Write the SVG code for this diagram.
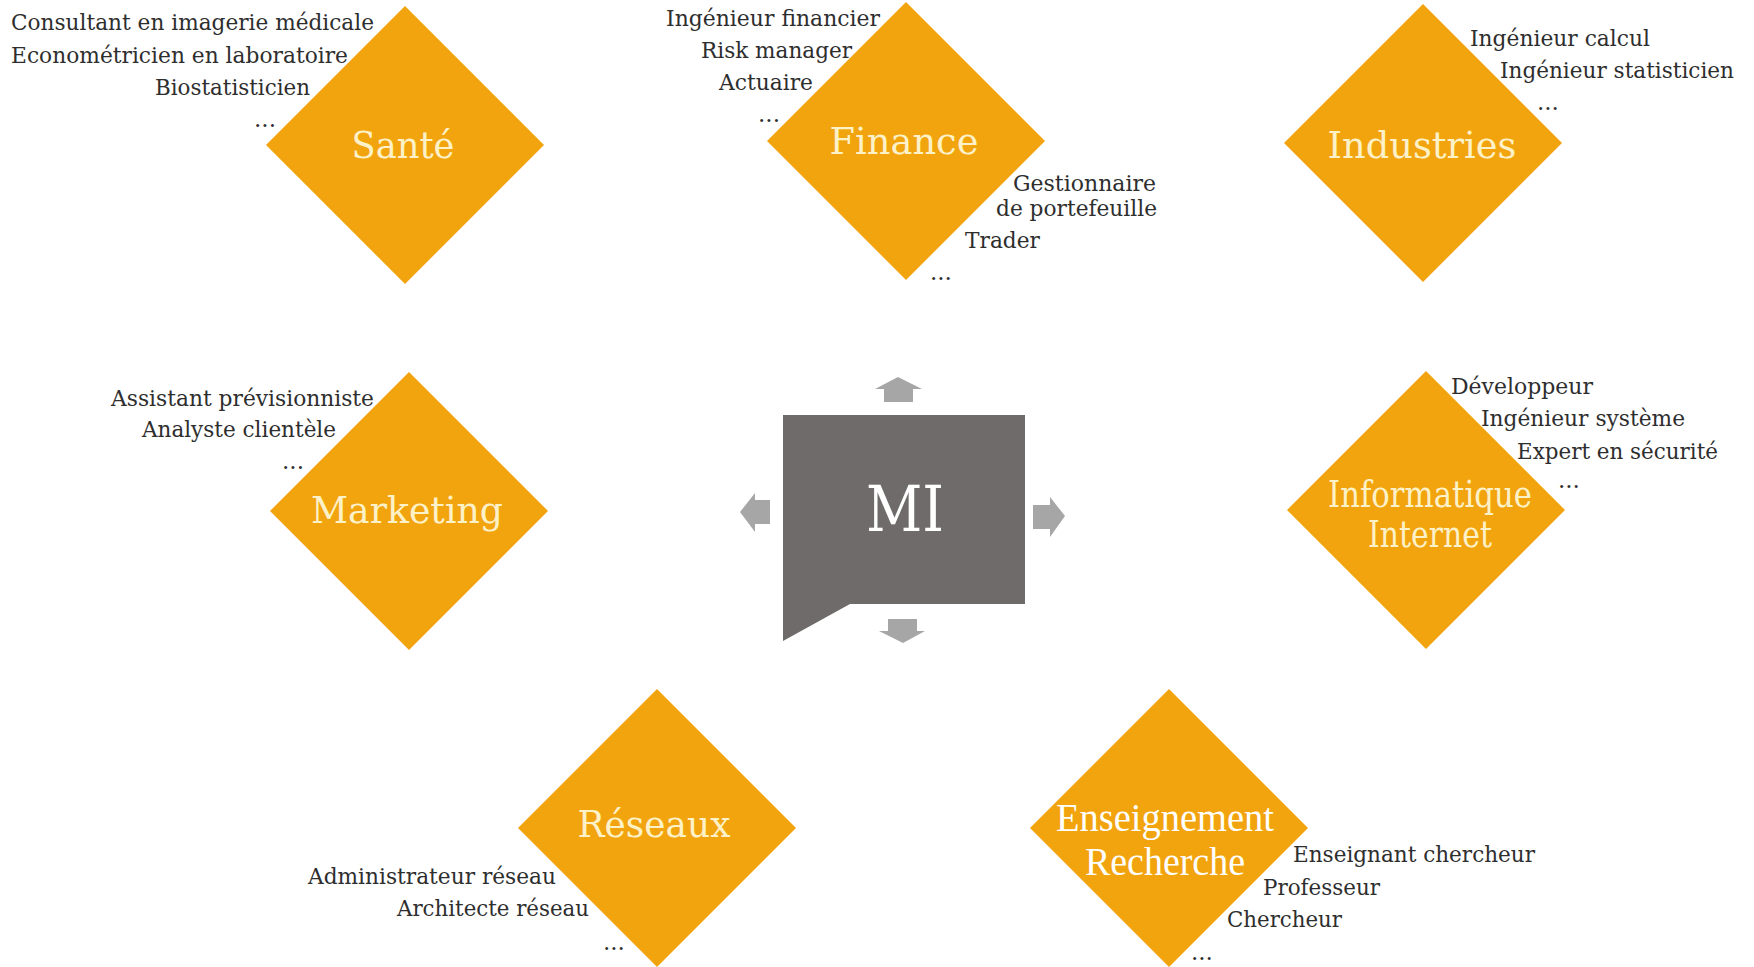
<svg xmlns="http://www.w3.org/2000/svg" width="1754" height="967" viewBox="0 0 1754 967">
<style>
.dia{fill:#F2A40E;}
.dl{font-family:"DejaVu Serif","Liberation Serif",serif;font-size:38px;fill:#FDF1C8;text-anchor:middle;}
.dl2{font-family:"Liberation Serif","DejaVu Serif",serif;font-size:40px;fill:#FFFFFF;text-anchor:middle;}
.lb{font-family:"DejaVu Serif","Liberation Serif",serif;font-size:23px;fill:#2E2E2E;}
.r{text-anchor:end;}
.arr{fill:#A6A6A6;}
</style>
<rect width="1754" height="967" fill="#FFFFFF"/>
<g id="connectors">
<polygon class="arr" points="898,377 922,389 913,389 913,402 884,402 884,389 875,389"/>
<polygon class="arr" points="740,512 755,493 755,500 770,500 770,524 755,524 755,532"/>
<polygon class="arr" points="1065,516 1050,497 1050,505 1033,505 1033,529 1050,529 1050,537"/>
<polygon class="arr" points="903,643 925,631 917,631 917,619 888,619 888,631 879,631"/>
</g>
<g id="mi">
<polygon fill="#6E6B6A" points="783,415 1025,415 1025,604 850,604 783,641"/>
<text x="905" y="531" font-family="DejaVu Serif,Liberation Serif,serif" font-size="64" fill="#FFFFFF" text-anchor="middle" textLength="78" lengthAdjust="spacingAndGlyphs">MI</text>
</g>
<g id="sante">
<polygon class="dia" points="405,6 544,145 405,284 266,145"/>
<text class="dl" x="403" y="158" textLength="103" lengthAdjust="spacingAndGlyphs">Santé</text>
<text class="lb r" x="374" y="30" textLength="363" lengthAdjust="spacingAndGlyphs">Consultant en imagerie médicale</text>
<text class="lb r" x="348" y="63" textLength="337" lengthAdjust="spacingAndGlyphs">Econométricien en laboratoire</text>
<text class="lb r" x="310" y="95" textLength="155" lengthAdjust="spacingAndGlyphs">Biostatisticien</text>
<text class="lb r" x="276" y="127">...</text>
</g>
<g id="finance">
<polygon class="dia" points="906,2 1045,141 906,280 767,141"/>
<text class="dl" x="904" y="154" textLength="149" lengthAdjust="spacingAndGlyphs">Finance</text>
<text class="lb r" x="880" y="26" textLength="214" lengthAdjust="spacingAndGlyphs">Ingénieur financier</text>
<text class="lb r" x="852" y="58" textLength="151" lengthAdjust="spacingAndGlyphs">Risk manager</text>
<text class="lb r" x="813" y="90" textLength="94" lengthAdjust="spacingAndGlyphs">Actuaire</text>
<text class="lb r" x="780" y="122">...</text>
<text class="lb r" x="1156" y="191" textLength="143" lengthAdjust="spacingAndGlyphs">Gestionnaire</text>
<text class="lb r" x="1157" y="216" textLength="161" lengthAdjust="spacingAndGlyphs">de portefeuille</text>
<text class="lb r" x="1040" y="248" textLength="75" lengthAdjust="spacingAndGlyphs">Trader</text>
<text class="lb" x="930" y="280">...</text>
</g>
<g id="industries">
<polygon class="dia" points="1423,4 1562,143 1423,282 1284,143"/>
<text class="dl" x="1422" y="158" textLength="189" lengthAdjust="spacingAndGlyphs">Industries</text>
<text class="lb" x="1470" y="46" textLength="180" lengthAdjust="spacingAndGlyphs">Ingénieur calcul</text>
<text class="lb" x="1500" y="78" textLength="234" lengthAdjust="spacingAndGlyphs">Ingénieur statisticien</text>
<text class="lb" x="1537" y="110">...</text>
</g>
<g id="marketing">
<polygon class="dia" points="409,372 548,511 409,650 270,511"/>
<text class="dl" x="407" y="523" textLength="192" lengthAdjust="spacingAndGlyphs">Marketing</text>
<text class="lb r" x="374" y="406" textLength="263" lengthAdjust="spacingAndGlyphs">Assistant prévisionniste</text>
<text class="lb r" x="336" y="437" textLength="194" lengthAdjust="spacingAndGlyphs">Analyste clientèle</text>
<text class="lb r" x="304" y="469">...</text>
</g>
<g id="informatique">
<polygon class="dia" points="1426,371 1565,510 1426,649 1287,510"/>
<text class="dl" x="1430" y="507" font-size="35" textLength="204" lengthAdjust="spacingAndGlyphs">Informatique</text>
<text class="dl" x="1430" y="547" font-size="35" textLength="124" lengthAdjust="spacingAndGlyphs">Internet</text>
<text class="lb" x="1451" y="394" textLength="142" lengthAdjust="spacingAndGlyphs">Développeur</text>
<text class="lb" x="1481" y="426" textLength="204" lengthAdjust="spacingAndGlyphs">Ingénieur système</text>
<text class="lb" x="1517" y="459" textLength="201" lengthAdjust="spacingAndGlyphs">Expert en sécurité</text>
<text class="lb" x="1558" y="488">...</text>
</g>
<g id="reseaux">
<polygon class="dia" points="657,689 796,828 657,967 518,828"/>
<text class="dl" x="654" y="837" textLength="153" lengthAdjust="spacingAndGlyphs">Réseaux</text>
<text class="lb r" x="556" y="884" textLength="248" lengthAdjust="spacingAndGlyphs">Administrateur réseau</text>
<text class="lb r" x="589" y="916" textLength="192" lengthAdjust="spacingAndGlyphs">Architecte réseau</text>
<text class="lb" x="603" y="950">...</text>
</g>
<g id="enseignement">
<polygon class="dia" points="1169,689 1308,828 1169,967 1030,828"/>
<text class="dl2" x="1165" y="831" textLength="218" lengthAdjust="spacingAndGlyphs">Enseignement</text>
<text class="dl2" x="1165" y="875" textLength="160" lengthAdjust="spacingAndGlyphs">Recherche</text>
<text class="lb" x="1293" y="862" textLength="242" lengthAdjust="spacingAndGlyphs">Enseignant chercheur</text>
<text class="lb" x="1263" y="895" textLength="117" lengthAdjust="spacingAndGlyphs">Professeur</text>
<text class="lb" x="1227" y="927" textLength="115" lengthAdjust="spacingAndGlyphs">Chercheur</text>
<text class="lb" x="1191" y="960">...</text>
</g>
</svg>
